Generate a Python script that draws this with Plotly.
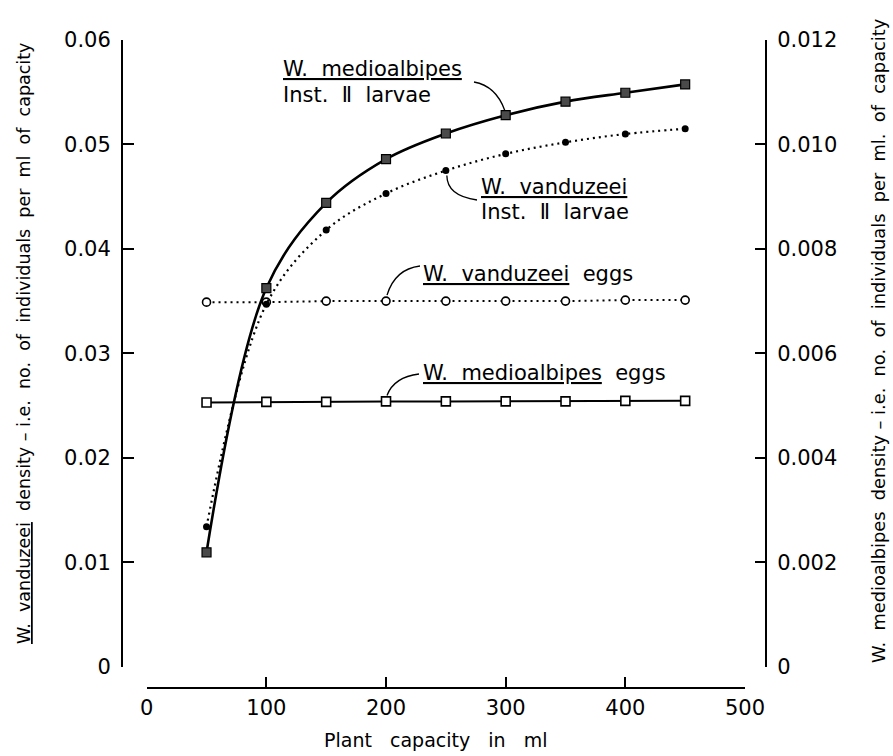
import plotly.graph_objects as go

# ---------------- data ----------------
capacity_ml = [50, 100, 150, 200, 250, 300, 350, 400, 450]

# left axis (W. vanduzeei density)
vanduzeei_larvae = [0.0134, 0.0347, 0.0418, 0.0453, 0.0475, 0.0491, 0.0502, 0.0510, 0.0515]
vanduzeei_eggs = [0.0349, 0.0349, 0.0350, 0.0350, 0.0350, 0.0350, 0.0350, 0.0351, 0.0351]

# right axis (W. medioalbipes density)
medioalbipes_larvae = [0.00219, 0.00725, 0.00888, 0.00972, 0.01021, 0.01056, 0.01082, 0.01099, 0.01115]
medioalbipes_eggs = [0.00506, 0.00507, 0.00507, 0.00508, 0.00508, 0.00508, 0.00508, 0.00509, 0.00509]

x_ticks = [0, 100, 200, 300, 400, 500]
left_ticks = [0, 0.01, 0.02, 0.03, 0.04, 0.05, 0.06]
left_ticktext = ["0", "0.01", "0.02", "0.03", "0.04", "0.05", "0.06"]
right_ticks = [0, 0.002, 0.004, 0.006, 0.008, 0.010, 0.012]
right_ticktext = ["0", "0.002", "0.004", "0.006", "0.008", "0.010", "0.012"]

# ---------------- layout geometry ----------------
W, H = 893, 756
L, R, T, B = 122, 127, 40, 68
PW, PH = W - L - R, H - T - B
XDOM = [(146.7 - L) / PW, (745.0 - L) / PW]
YDOM = [(H - B - 666.7) / PH, 1.0]

FONT = "DejaVu Sans"


def pxx(px):
    return (px - L) / PW


def pxy(py):
    return (H - B - py) / PH


def data_px(xv, yv_left):
    px = 146.7 + (xv - 0) * (745.0 - 146.7) / 500
    py = 666.7 - yv_left * (666.7 - 40) / 0.06
    return px, py


fig = go.Figure()

fig.add_trace(go.Scatter(
    x=capacity_ml, y=vanduzeei_eggs, mode="lines+markers", yaxis="y",
    line=dict(color="black", width=2, dash="2px,4px"),
    marker=dict(symbol="circle", size=8, color="white", line=dict(color="black", width=1.6)),
))
fig.add_trace(go.Scatter(
    x=capacity_ml, y=medioalbipes_eggs, mode="lines+markers", yaxis="y2",
    line=dict(color="black", width=2),
    marker=dict(symbol="square", size=9, color="white", line=dict(color="black", width=1.6)),
))
fig.add_trace(go.Scatter(
    x=capacity_ml, y=vanduzeei_larvae, mode="lines+markers", yaxis="y",
    line=dict(color="black", width=2.2, dash="2px,4px", shape="spline", smoothing=1.0),
    marker=dict(symbol="circle", size=7, color="black"),
))
fig.add_trace(go.Scatter(
    x=capacity_ml, y=medioalbipes_larvae, mode="lines+markers", yaxis="y2",
    line=dict(color="black", width=2.6, shape="spline", smoothing=1.0),
    marker=dict(symbol="square", size=9, color="#4a4a4a", line=dict(color="black", width=1.2)),
))

tickfont = dict(family=FONT, size=21, color="black")

fig.update_layout(
    width=W, height=H,
    margin=dict(l=L, r=R, t=T, b=B, pad=0),
    paper_bgcolor="white", plot_bgcolor="white",
    showlegend=False,
    font=dict(family=FONT, color="black"),
    xaxis=dict(
        domain=XDOM, range=[0, 500], anchor="free", position=0,
        tickvals=x_ticks, ticks="inside", ticklen=10, tickwidth=2, tickcolor="black",
        showline=True, linecolor="black", linewidth=2, showgrid=False, zeroline=False,
        tickfont=tickfont, ticklabelstandoff=1,
    ),
    yaxis=dict(
        domain=YDOM, range=[0, 0.06], anchor="free", position=0,
        tickvals=left_ticks, ticktext=left_ticktext,
        ticks="inside", ticklen=11, tickwidth=2, tickcolor="black",
        showline=True, linecolor="black", linewidth=2, showgrid=False, zeroline=False,
        tickfont=tickfont, ticklabelstandoff=6,
    ),
    yaxis2=dict(
        range=[0, 0.012], overlaying="y", side="right", anchor="free", position=1,
        tickvals=right_ticks, ticktext=right_ticktext,
        ticks="inside", ticklen=10, tickwidth=2, tickcolor="black",
        showline=True, linecolor="black", linewidth=2, showgrid=False, zeroline=False,
        tickfont=tickfont, ticklabelstandoff=6,
    ),
)

ann = []


def add_text(text, px, py, size=21, angle=0, xanchor="left"):
    ann.append(dict(
        text=text, x=pxx(px), y=pxy(py), xref="paper", yref="paper",
        xanchor=xanchor, yanchor="middle", showarrow=False, textangle=angle,
        font=dict(family=FONT, size=size, color="black"),
    ))


add_text("<u>W.  medioalbipes</u>", 281, 69)
add_text("Inst.  Ⅱ  larvae", 281, 95)
add_text("<u>W.  vanduzeei</u>", 479, 187)
add_text("Inst.  Ⅱ  larvae", 479, 212)
add_text("<u>W.  vanduzeei</u>  eggs", 421, 274)
add_text("<u>W.  medioalbipes</u>  eggs", 421, 373)

add_text("<u>W.  vanduzeei</u>  density – i.e.  no.  of  individuals  per  ml  of  capacity",
         24, 344, size=17.5, angle=-90, xanchor="center")
add_text("W.  medioalbipes  density – i.e.  no.  of  individuals  per  ml.  of  capacity",
         879, 341, size=17.8, angle=-90, xanchor="center")
add_text("Plant   capacity   in   ml", 436, 740, size=19, xanchor="center")

fig.update_layout(annotations=ann)

# leader lines (curved), anchored near their data points
shapes = []


def leader(p0, c, p1):
    path = "M {},{} Q {},{} {},{}".format(pxx(p0[0]), pxy(p0[1]), pxx(c[0]), pxy(c[1]),
                                            pxx(p1[0]), pxy(p1[1]))
    shapes.append(dict(type="path", path=path, xref="paper", yref="paper",
                       line=dict(color="black", width=1.3)))


i300 = capacity_ml.index(300)
px, py = data_px(300, medioalbipes_larvae[i300] * 5)
leader((474, 82), (496, 86), (px - 1, py - 5))

i250 = capacity_ml.index(250)
px, py = data_px(250, vanduzeei_larvae[i250])
leader((px + 1, py + 5), (447, 196), (477, 200))

i200 = capacity_ml.index(200)
px, py = data_px(200, vanduzeei_eggs[i200])
leader((px + 1, py - 6), (395, 269), (420, 266))

px, py = data_px(200, medioalbipes_eggs[i200] * 5)
leader((px + 1, py - 6), (394, 377), (419, 374))

fig.update_layout(shapes=shapes)

fig.write_html("out.html")
